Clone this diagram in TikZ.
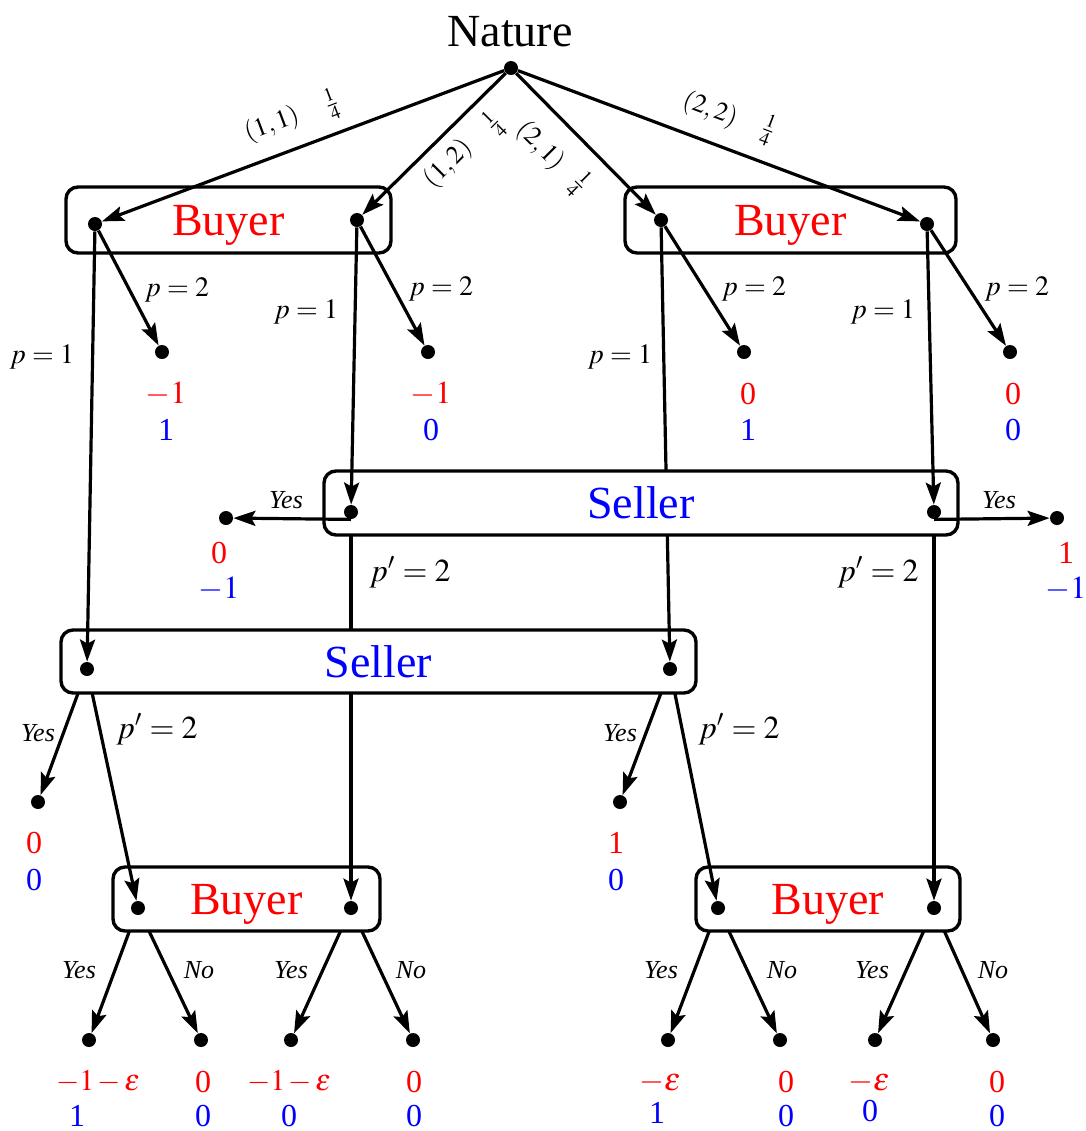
\documentclass[tikz,border=0pt]{standalone}
\usepackage{mathptmx}
\usepackage{fontspec}
\setmainfont{Liberation Serif}
\usetikzlibrary{arrows.meta}
\newcommand{\lossEps}{{\fontsize{15}{17}\selectfont$-1\mkern2mu{-}\mkern2mu\varepsilon$}}
\newcommand{\minusEps}{$-\varepsilon$}

\begin{document}
\begin{tikzpicture}[x=0.5pt, y=-0.5pt,
    dot/.style={circle, inner sep=0pt, minimum size=7pt},
    move/.style={line width=1.6pt, -{Stealth[length=11pt, width=7.5pt, inset=2pt]}},
    infoset/.style={draw, line width=1.7pt, rounded corners=6pt, fill=white, inner sep=0pt, text depth=0pt, font=\fontsize{23}{26}\selectfont},
    lbl/.style={font=\fontsize{14}{16}\selectfont, inner sep=0pt},
    plbl/.style={font=\fontsize{16}{18}\selectfont, inner sep=0pt},
    ans/.style={font=\fontsize{13}{15}\selectfont\itshape, inner sep=0pt},
    chance/.style={font=\fontsize{13}{15}\selectfont, inner sep=0pt},
    pay/.style={font=\fontsize{16}{18}\selectfont, inner sep=0pt}]
  \useasboundingbox (0,0) rectangle (1086,1131);
  % decision points and outcomes
  \node[font=\fontsize{23}{26}\selectfont] (nat) at (510,32) {Nature};
  \foreach \n/\x/\y in {N/511/68, b1/95/224, b2/357/220, b3/661/220, b4/927/224,
      t1/162/352, t2/428/352, t3/744/352, t4/1010/352,
      s1a/351/512, s1b/934/512, y1/226/518, y2/1057/518,
      s2a/87/669, s2b/670/669, y3/38/802, y4/620/802,
      c1/138/908, c2/351/908, c3/718/908, c4/934/908,
      e1/89/1040, e2/201/1040, e3/291/1040, e4/413/1040,
      e5/668/1040, e6/780/1040, e7/875/1040, e8/993/1040}
    \node[dot] (\n) at (\x,\y) {};
  % first buyer boxes
  \node[infoset, text=red, minimum width=162.5pt, minimum height=33pt] (B1) at (228.5,220) {Buyer};
  \node[infoset, text=red, minimum width=165.5pt, minimum height=33pt] (B2) at (790.5,220) {Buyer};
  % last buyer moves, then their boxes on top
  \foreach \a/\b in {c1/e1, c1/e2, c2/e3, c2/e4, c3/e5, c3/e6, c4/e7, c4/e8}
    \draw[move] (\a) -- (\b);
  \node[infoset, text=red, minimum width=133.5pt, minimum height=32pt] (BB1) at (246.5,899) {Buyer};
  \node[infoset, text=red, minimum width=132pt, minimum height=32pt] (BB2) at (828,899) {Buyer};
  % seller moves hidden by the seller boxes
  \foreach \a/\b in {s1a/c2, s1b/c4, s2a/y3, s2a/c1, s2b/y4, s2b/c3}
    \draw[move] (\a) -- (\b);
  \node[infoset, text=blue, minimum width=317.5pt, minimum height=31.5pt] (S2) at (378.5,661.5) {Seller};
  \draw[move] (b3) -- (s2b);
  \node[infoset, text=blue, minimum width=317pt, minimum height=32pt] (S1) at (641,503) {Seller};
  % remaining moves
  \foreach \a/\b in {N/b1, N/b2, N/b3, N/b4, b1/t1, b2/t2, b3/t3, b4/t4,
      b1/s2a, b2/s1a, b4/s1b}
    \draw[move] (\a) -- (\b);
  \draw[move] (s1a.south) -- (y1);
  \draw[move] (s1b.south) -- (y2);
  % chance labels
  \node[chance, rotate=20.6] (l11) at (272,125) {$(1,1)$};
  \node[chance, rotate=20.6] (q11) at (332,104) {$\frac{1}{4}$};
  \node[chance, rotate=45] (l12) at (448,164) {$(1,2)$};
  \node[chance, rotate=45] (q12) at (494,124) {$\frac{1}{4}$};
  \node[chance, rotate=-45] (l21) at (540,146) {$(2,1)$};
  \node[chance, rotate=-45] (q21) at (579,184) {$\frac{1}{4}$};
  \node[chance, rotate=-20.6] (l22) at (710,110) {$(2,2)$};
  \node[chance, rotate=-20.6] (q22) at (768,130) {$\frac{1}{4}$};
  % action labels
  \foreach \t/\x/\y [count=\i] in {p=2/177/290, p=2/441/289, p=2/754/289, p=2/1017/289,
      p=1/42/357, p=1/306/312, p=1/620/357, p=1/883/312}
    \node[lbl] (p\i) at (\x,\y) {$\t$};
  \foreach \x/\y [count=\i] in {410/572, 878/572, 157/729, 739/729}
    \node[plbl] (pp\i) at (\x,\y) {$p'=2$};
  \foreach \t/\x/\y [count=\i] in {Yes/286/500, Yes/999/500, Yes/38/733, Yes/620/733,
      Yes/79/970, No/199/970, Yes/291/970, No/411/970,
      Yes/661/970, No/782/970, Yes/872/970, No/993/970}
    \node[ans] (a\i) at (\x,\y) {\t};
  % payoffs
  \foreach \x/\y/\r/\bx/\by/\b [count=\i] in {166/394/$-1$/166/430/1, 431/394/$-1$/431/430/0,
      748/394/0/748/430/1, 1013/394/0/1013/430/0,
      219/553/0/219/589/$-1$, 1066/553/1/1066/589/$-1$,
      34/843/0/34/880/0, 616/843/1/616/880/0,
      98/1082/\lossEps/77/1116/1, 203/1082/0/203/1116/0,
      289/1082/\lossEps/289/1116/0, 414/1082/0/414/1116/0,
      660/1082/\minusEps/657/1113/1, 786/1082/0/786/1116/0,
      869/1082/\minusEps/870/1111/0, 997/1082/0/997/1116/0} {
    \node[pay, text=red] (u\i) at (\x,\y) {\r};
    \node[pay, text=blue] (v\i) at (\bx,\by) {\b};
  }
  % dots on top
  \foreach \n in {N, b1, b2, b3, b4, t1, t2, t3, t4, s1a, s1b, y1, y2, s2a, s2b, y3, y4,
      c1, c2, c3, c4, e1, e2, e3, e4, e5, e6, e7, e8}
    \fill (\n) circle (3.5pt);
\end{tikzpicture}
\end{document}
